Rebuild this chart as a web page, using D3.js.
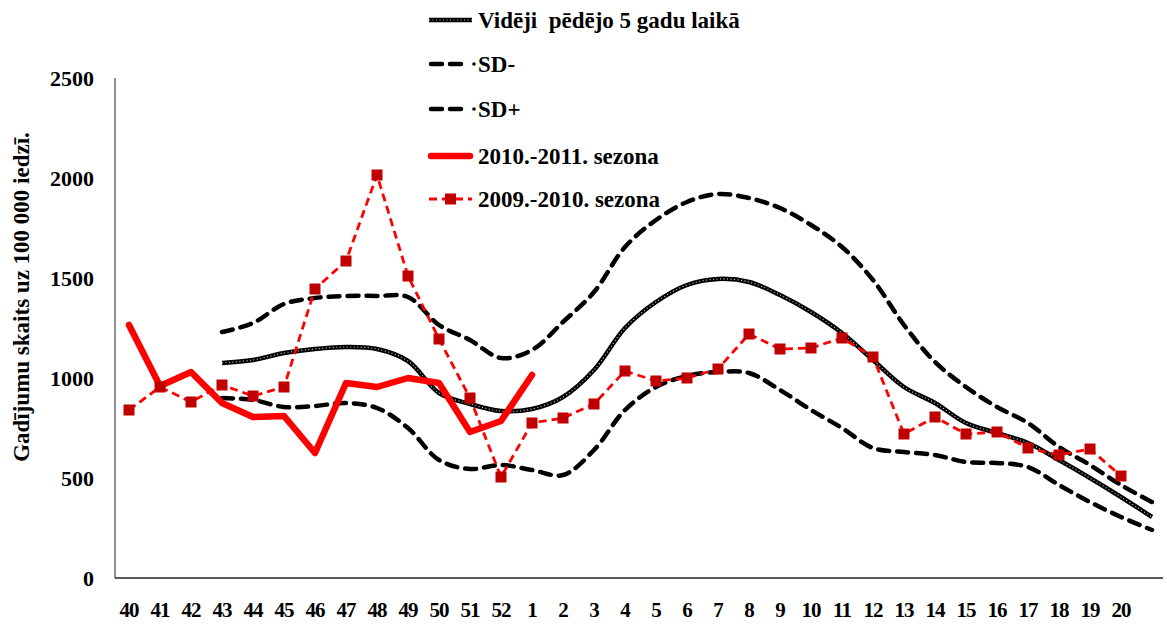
<!DOCTYPE html>
<html>
<head>
<meta charset="utf-8">
<script src="https://cdn.jsdelivr.net/npm/d3@7"></script>
<style>
body { margin: 0; background: #fff; }
text { font-family: "Liberation Serif", "Times New Roman", serif; font-weight: bold; }
</style>
</head>
<body>
<svg id="chart" width="1167" height="626"></svg>
<script>
var weeks = ["40","41","42","43","44","45","46","47","48","49","50","51","52","1","2","3","4","5","6","7","8","9","10","11","12","13","14","15","16","17","18","19","20","21"];
var tickLabels = ["40","41","42","43","44","45","46","47","48","49","50","51","52","1","2","3","4","5","6","7","8","9","10","11","12","13","14","15","16","17","18","19","20",""];
var yTicks = [0, 500, 1000, 1500, 2000, 2500];

// videji pedejo 5 gadu laika, no 43. nedelas
var mean = [null,null,null,1075,1090,1125,1145,1155,1145,1085,925,870,835,845,905,1040,1250,1380,1465,1495,1480,1415,1330,1225,1090,955,875,775,725,675,590,500,405,305];
var sdMinus = [null,null,null,900,890,855,860,875,850,750,590,545,565,540,515,640,840,955,1010,1030,1025,940,840,750,650,630,615,580,575,555,465,380,305,240];
var sdPlus = [null,null,null,1230,1275,1370,1400,1410,1410,1405,1265,1190,1100,1140,1280,1430,1655,1790,1880,1920,1900,1850,1765,1655,1490,1265,1080,955,855,775,655,565,465,380];
var season1011 = [1265,960,1030,875,805,810,625,975,955,1000,975,730,785,1015];
var season0910 = [840,955,880,965,910,955,1445,1585,2015,1510,1195,900,505,775,800,870,1035,985,1000,1045,1220,1145,1150,1200,1105,720,805,720,730,650,615,645,510];

var legendNames = ["Vidēji  pēdējo 5 gadu laikā", "SD-", "SD+", "2010.-2011. sezona", "2009.-2010. sezona"];

var svg = d3.select("#chart");

var x = d3.scalePoint().domain(weeks).range([129, 1152]);
var y = d3.scaleLinear().domain([0, 2500]).range([578, 78]);

// asis
svg.append("line").attr("x1", 115).attr("y1", 78).attr("x2", 115).attr("y2", 578)
    .attr("stroke", "#555").attr("stroke-width", 1.3);
svg.append("line").attr("x1", 115).attr("y1", 578).attr("x2", 1163).attr("y2", 578)
    .attr("stroke", "#222").attr("stroke-width", 1.3);

svg.selectAll(".ylab").data(yTicks).enter().append("text")
    .attr("x", 94).attr("y", function (d) { return y(d); })
    .attr("dy", "0.35em").attr("text-anchor", "end")
    .style("font-size", "22px").text(function (d) { return d; });

svg.selectAll(".xlab").data(weeks).enter().append("text")
    .attr("x", function (d) { return x(d); }).attr("y", 617)
    .attr("text-anchor", "middle")
    .style("font-size", "21px").style("letter-spacing", "-1px")
    .text(function (d, i) { return tickLabels[i]; });

svg.append("text")
    .attr("transform", "translate(29,297) rotate(-90)")
    .attr("text-anchor", "middle")
    .style("font-size", "23px")
    .text("Gadījumu skaits uz 100 000 iedzī.");

function series(vals) {
    var pts = [];
    for (var i = 0; i < vals.length; i++) {
        if (vals[i] != null) pts.push([weeks[i], vals[i]]);
    }
    return pts;
}

var smooth = d3.line().x(function (d) { return x(d[0]); }).y(function (d) { return y(d[1]); })
    .curve(d3.curveCatmullRom.alpha(0.5));
var straight = d3.line().x(function (d) { return x(d[0]); }).y(function (d) { return y(d[1]); });

// SD liknes
[sdPlus, sdMinus].forEach(function (s) {
    svg.append("path").attr("d", smooth(series(s))).attr("fill", "none")
        .attr("stroke", "#000").attr("stroke-width", 4.5)
        .attr("stroke-dasharray", "11,8").attr("stroke-linecap", "round");
});

// videjais
svg.append("path").attr("d", smooth(series(mean))).attr("fill", "none")
    .attr("stroke", "#000").attr("stroke-width", 4.5);
svg.append("path").attr("d", smooth(series(mean))).attr("fill", "none")
    .attr("stroke", "#ccc").attr("stroke-width", 1.2).attr("stroke-dasharray", "1,2.5");

// 2010.-2011.
svg.append("path").attr("d", straight(series(season1011))).attr("fill", "none")
    .attr("stroke", "#ff0000").attr("stroke-width", 6.5).attr("stroke-linejoin", "round")
    .attr("stroke-linecap", "round");

// 2009.-2010.
svg.append("path").attr("d", straight(series(season0910))).attr("fill", "none")
    .attr("stroke", "#ff0000").attr("stroke-width", 2.8).attr("stroke-dasharray", "8,5");
svg.selectAll(".sq").data(series(season0910)).enter().append("rect")
    .attr("x", function (d) { return x(d[0]) - 5.5; })
    .attr("y", function (d) { return y(d[1]) - 5.5; })
    .attr("width", 11).attr("height", 11).attr("fill", "#c00000");

// legenda
var legY = [20, 64, 109, 156, 199];
var lx1 = 429, lx2 = 472;
var lg = svg.append("g");
// 1
lg.append("line").attr("x1", lx1).attr("y1", legY[0]).attr("x2", lx2).attr("y2", legY[0])
    .attr("stroke", "#000").attr("stroke-width", 4.5);
lg.append("line").attr("x1", lx1).attr("y1", legY[0]).attr("x2", lx2).attr("y2", legY[0])
    .attr("stroke", "#ccc").attr("stroke-width", 1.2).attr("stroke-dasharray", "1,2.5");
// 2, 3
[1, 2].forEach(function (k) {
    lg.append("line").attr("x1", lx1 + 2).attr("y1", legY[k]).attr("x2", lx2 - 6).attr("y2", legY[k])
        .attr("stroke", "#000").attr("stroke-width", 4.5)
        .attr("stroke-dasharray", "11,8").attr("stroke-linecap", "round");
    lg.append("circle").attr("cx", lx2 + 2).attr("cy", legY[k]).attr("r", 1.8).attr("fill", "#000");
});
// 4
lg.append("line").attr("x1", lx1 + 2).attr("y1", legY[3]).attr("x2", lx2 - 2).attr("y2", legY[3])
    .attr("stroke", "#ff0000").attr("stroke-width", 6.5).attr("stroke-linecap", "round");
// 5
lg.append("line").attr("x1", lx1).attr("y1", legY[4]).attr("x2", lx2).attr("y2", legY[4])
    .attr("stroke", "#ff0000").attr("stroke-width", 2.8).attr("stroke-dasharray", "8,5");
lg.append("rect").attr("x", 445).attr("y", legY[4] - 5.5).attr("width", 11).attr("height", 11)
    .attr("fill", "#c00000");

lg.selectAll(".lt").data(legendNames).enter().append("text")
    .attr("x", 478).attr("y", function (d, i) { return legY[i]; })
    .attr("dy", "0.35em").style("font-size", "23px")
    .style("white-space", "pre").attr("xml:space", "preserve")
    .text(function (d) { return d; });
</script>
</body>
</html>
